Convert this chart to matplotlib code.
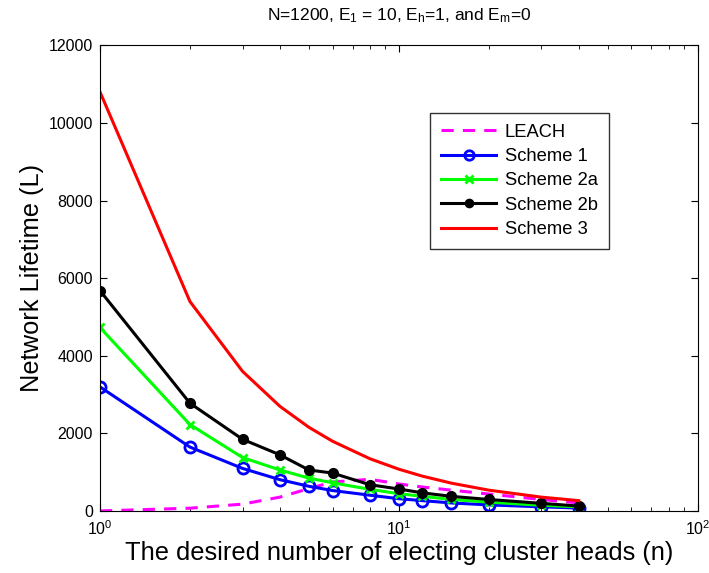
import matplotlib.pyplot as plt

plt.rcParams['font.family'] = ['Liberation Sans', 'DejaVu Sans']
plt.rcParams['mathtext.fontset'] = 'custom'
plt.rcParams['mathtext.rm'] = 'Liberation Sans'
plt.rcParams['mathtext.it'] = 'Liberation Sans'

# Values
n_heads = [1, 2, 3, 4, 5, 6, 8, 10, 12, 15, 20, 30, 40]
leach = [5, 75, 180, 360, 580, 750, 820, 700, 620, 540, 440, 300, 210]
scheme1 = [3200, 1650, 1100, 810, 640, 530, 410, 320, 270, 210, 160, 110, 80]
scheme2a = [4730, 2230, 1380, 1060, 850, 730, 560, 450, 380, 300, 230, 150, 110]
scheme2b = [5680, 2780, 1850, 1450, 1060, 980, 680, 570, 470, 380, 300, 200, 130]
scheme3 = [10800, 5400, 3600, 2700, 2160, 1800, 1350, 1080, 900, 720, 540, 360, 270]

fig = plt.figure(figsize=(7.09, 5.73), dpi=100)
ax = fig.add_axes([0.141, 0.108, 0.843, 0.813])

ax.plot(n_heads, leach, '--', color='#ff00ff', lw=2.2, dashes=(4, 3), label='LEACH')
ax.plot(n_heads, scheme1, '-o', color='#0000ff', lw=2.2, ms=8, mfc='none', mew=2,
        label='Scheme 1')
ax.plot(n_heads, scheme2a, '-x', color='#00ff00', lw=2.2, ms=6, mew=2, label='Scheme 2a')
ax.plot(n_heads, scheme2b, '-o', color='black', lw=2.2, ms=7, label='Scheme 2b')
ax.plot(n_heads, scheme3, '-', color='#ff0000', lw=2.2, label='Scheme 3')

ax.set_xscale('log')
ax.set_xlim(1, 100)
ax.set_ylim(0, 12000)
ax.set_yticks(range(0, 12001, 2000))

ax.tick_params(which='both', direction='in', top=True, right=True, labelsize=11.5)
ax.tick_params(which='major', length=5)
ax.tick_params(which='minor', length=3)
ax.tick_params(axis='y', pad=5)
ax.tick_params(axis='x', pad=6)

ax.set_title(r'N=1200, E$_1$ = 10, E$_h$=1, and E$_m$=0', fontsize=12.5, pad=18)
ax.set_xlabel('The desired number of electing cluster heads (n)', fontsize=18.3, labelpad=2)
ax.set_ylabel('Network Lifetime (L)', fontsize=18.3, labelpad=3)

leg = ax.legend(loc='upper left', bbox_to_anchor=(0.553, 0.855), borderaxespad=0,
                fontsize=13.2, fancybox=False, edgecolor='black', handlelength=3.0,
                borderpad=0.6, labelspacing=0.4, handletextpad=0.45,
                markerscale=0.85)
leg.get_frame().set_linewidth(1.0)

fig.savefig('out.png', dpi=100)
